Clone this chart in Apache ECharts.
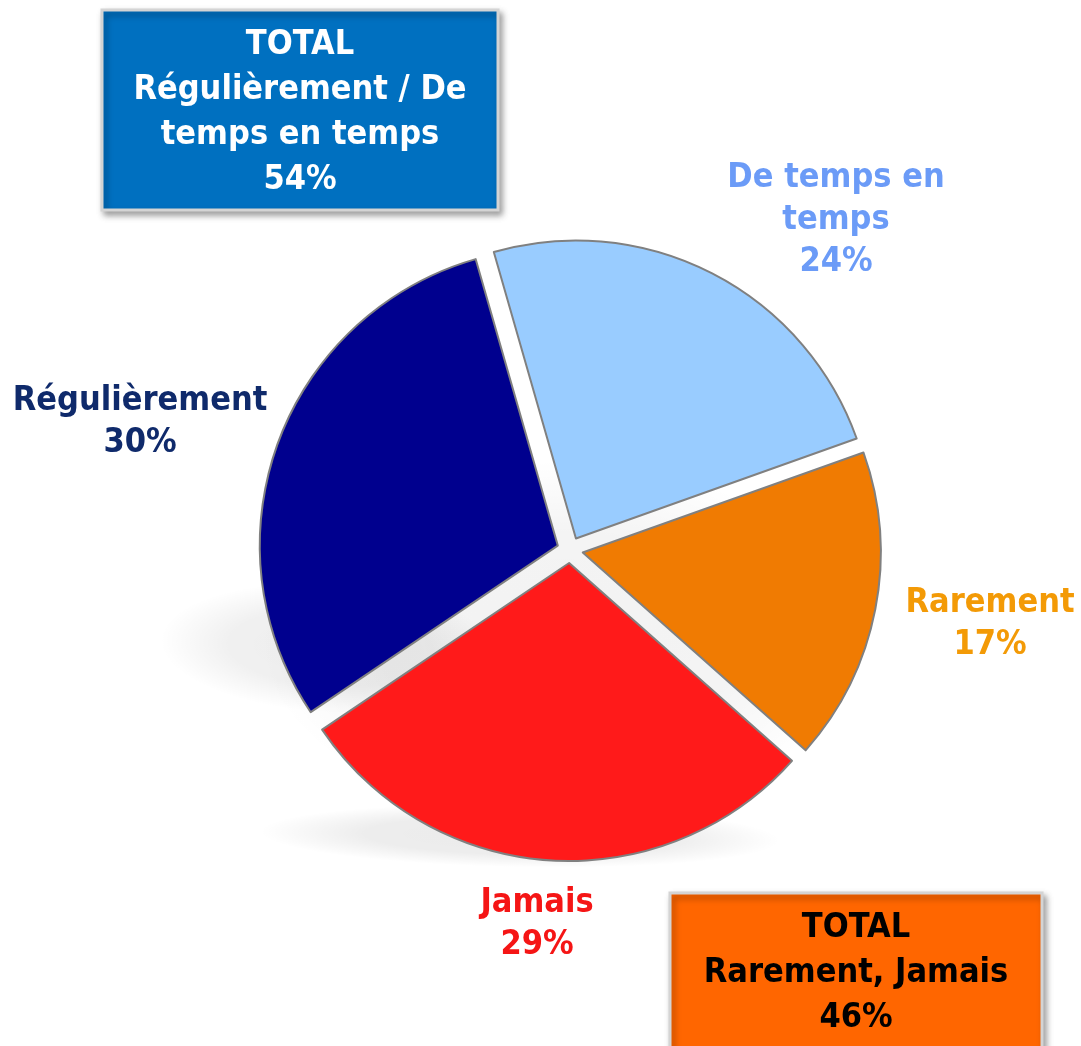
<!DOCTYPE html>
<html>
<head>
<meta charset="utf-8">
<script src="https://cdn.jsdelivr.net/npm/echarts@6/dist/echarts.min.js"></script>
<style>
html,body{margin:0;padding:0;background:#fff;}
#chart{width:1081px;height:1046px;}
</style>
</head>
<body>
<div id="chart"></div>
<script>
// ---- data ----
var categories = ['De temps en temps', 'Rarement', 'Jamais', 'Régulièrement'];
var labelNames = ['De temps en\ntemps', 'Rarement', 'Jamais', 'Régulièrement'];
var values = [24, 17, 29, 30];
var totalLabelsA = ['TOTAL', 'Régulièrement / De', 'temps en temps'];
var totalLabelsB = ['TOTAL', 'Rarement, Jamais'];

var sliceColors = ['#99CCFF', '#F07B02', '#FF1A1A', '#00008E'];
var labelColors = ['#6B9BF7', '#F39A06', '#F51515', '#0F2A6B'];
var labelPos = [[836, 220], [990, 624], [537, 924], [140, 422]];

var FONT = '"DejaVu Sans Condensed", "DejaVu Sans", sans-serif';
var totalA = values[3] + values[0];
var totalB = values[1] + values[2];

var chart = echarts.init(document.getElementById('chart'), null, {renderer: 'canvas'});

function blob(x, y, r, sy, rot, a) {
  return {
    type: 'circle', z: 0, silent: true,
    x: x, y: y, scaleY: sy, rotation: rot * Math.PI / 180,
    shape: {cx: 0, cy: 0, r: r},
    style: {
      fill: {
        type: 'radial', x: 0.5, y: 0.5, r: 0.5,
        colorStops: [
          {offset: 0, color: 'rgba(0,0,0,' + a + ')'},
          {offset: 0.6, color: 'rgba(0,0,0,' + (a * 0.9) + ')'},
          {offset: 1, color: 'rgba(0,0,0,0)'}
        ]
      }
    }
  };
}

var pieData = categories.map(function (c, i) {
  return {
    name: c,
    value: values[i],
    selected: true,
    itemStyle: {color: sliceColors[i]}
  };
});

var labelGraphics = categories.map(function (c, i) {
  return {
    type: 'text', z: 50,
    style: {
      text: labelNames[i] + '\n' + values[i] + '%',
      x: labelPos[i][0], y: labelPos[i][1],
      align: 'center', verticalAlign: 'middle',
      fill: labelColors[i], font: 'bold 34px ' + FONT, lineHeight: 42
    }
  };
});

chart.setOption({
  animation: false,
  backgroundColor: '#ffffff',
  graphic: [
    blob(560, 640, 300, 0.6, 0, 0.05),
    blob(330, 648, 170, 0.38, -3, 0.065),
    blob(520, 836, 260, 0.12, -1, 0.08),
    {
      type: 'group', z: 100,
      children: [
        {
          type: 'rect',
          shape: {x: 102, y: 10, width: 396, height: 200},
          style: {fill: '#0070C0', stroke: '#D4D4D4', lineWidth: 3,
            shadowBlur: 6, shadowOffsetX: 3, shadowOffsetY: 4, shadowColor: 'rgba(0,0,0,0.35)'}
        },
        {
          type: 'text',
          style: {
            text: totalLabelsA.join('\n') + '\n' + totalA + '%',
            x: 300, y: 113, align: 'center', verticalAlign: 'middle',
            fill: '#ffffff', font: 'bold 34px ' + FONT, lineHeight: 45
          }
        },
        {
          type: 'rect',
          shape: {x: 670, y: 893, width: 372, height: 170},
          style: {fill: '#FF6600', stroke: '#D4D4D4', lineWidth: 3,
            shadowBlur: 6, shadowOffsetX: 3, shadowOffsetY: 4, shadowColor: 'rgba(0,0,0,0.35)'}
        },
        {
          type: 'text',
          style: {
            text: totalLabelsB.join('\n') + '\n' + totalB + '%',
            x: 856, y: 973, align: 'center', verticalAlign: 'middle',
            fill: '#000000', font: 'bold 34px ' + FONT, lineHeight: 45
          }
        }
      ]
    }
  ].concat(labelGraphics),
  series: [{
    type: 'pie',
    z: 2,
    center: [570, 550],
    radius: [0, 298],
    startAngle: 106,
    clockwise: true,
    selectedMode: 'multiple',
    selectedOffset: 13,
    avoidLabelOverlap: false,
    emphasis: {disabled: true},
    itemStyle: {borderColor: '#808080', borderWidth: 2},
    label: {show: false},
    labelLine: {show: false},
    data: pieData
  }]
});
</script>
</body>
</html>
